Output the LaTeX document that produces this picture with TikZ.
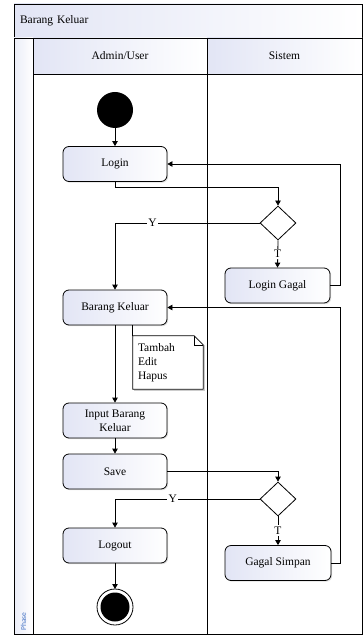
\documentclass[tikz,border=0pt]{standalone}
\usepackage{fontspec}
\setmainfont{Liberation Serif}
\newfontfamily\phasefont{Carlito}
\usetikzlibrary{arrows.meta,shapes.geometric,shadows}
\definecolor{laneblue}{RGB}{226,229,245}
\definecolor{phaseblue}{RGB}{68,114,196}

\begin{document}
\begin{tikzpicture}[x=1pt, y=-1pt, font=\fontsize{11.5}{14}\selectfont]
\tikzstyle{header} = [rectangle, draw=black, line width=0.8pt, left color=laneblue, right color=white, inner sep=0pt]
\tikzstyle{action} = [rectangle, rounded corners=6pt, draw=black, line width=0.8pt, left color=laneblue, right color=white, minimum width=104pt, minimum height=35pt, text centered, drop shadow={shadow xshift=1.2pt, shadow yshift=-1.2pt, opacity=0.25}]
\tikzstyle{decision} = [diamond, draw=black, line width=0.8pt, fill=white, inner sep=0pt, minimum width=36pt, minimum height=34pt]
\tikzstyle{label} = [fill=white, inner sep=1.5pt]
\tikzstyle{arrow} = [line width=0.8pt, -{Triangle[length=5pt,width=5.5pt]}]
\useasboundingbox (0,0) rectangle (363,644);

% swimlanes
\node (TitleBar) [header, minimum width=348pt, minimum height=34pt, text width=336pt, align=left] at (188,21) {Barang Keluar};
\path [left color=laneblue!70, right color=white, draw=black, line width=0.8pt] (14,38) rectangle (33,634);
\node (AdminHeader) [header, minimum width=174pt, minimum height=36pt] at (120,56) {Admin/User};
\node (SistemHeader) [header, minimum width=155pt, minimum height=36pt] at (284.5,56) {Sistem};
\draw [line width=0.8pt] (33,74) rectangle (207,634);
\draw [line width=0.8pt] (207,74) rectangle (362,634);
\node (PhaseLabel) [rotate=90, anchor=west, inner sep=0pt, text=phaseblue, font=\phasefont\fontsize{7.5}{9}\selectfont] at (23.5,631) {Phase};

% activities
\node (Start) [circle, fill=black, minimum size=36pt, inner sep=0pt] at (115,110) {};
\node (Login) [action] at (115,164) {Login};
\node (LoginCheck) [decision] at (278,223) {};
\node (LoginGagal) [action, minimum width=105pt] at (277.5,285.5) {Login Gagal};
\node (BarangKeluar) [action] at (115,307.5) {Barang Keluar};
\node (Note) [rectangle, minimum width=70pt, minimum height=53pt, text width=60pt, align=left, inner sep=5pt] at (168,362.5) {Tambah\\Edit\\Hapus};
\node (InputBarangKeluar) [action, align=center] at (115,420.5) {Input Barang\\Keluar};
\node (Save) [action] at (115,471.5) {Save};
\node (SaveCheck) [decision] at (278,499) {};
\node (Logout) [action] at (115,545.5) {Logout};
\node (GagalSimpan) [action, minimum width=106pt] at (278,563) {Gagal Simpan};
\node (End) [circle, fill=black, minimum size=29pt, inner sep=0pt] at (115,607) {};
\draw [line width=0.8pt] (End.center) circle (18pt);

% note outline
\draw [line width=0.8pt] (Note.north west) -- ([xshift=-9pt]Note.north east) -- ([yshift=-9pt]Note.north east) -- (Note.south east) -- (Note.south west) -- cycle;
\draw [line width=0.5pt] ([xshift=-9pt]Note.north east) -- ([xshift=-9pt,yshift=-9pt]Note.north east) -- ([yshift=-9pt]Note.north east);
\draw [gray!40, line width=1.2pt] ([xshift=1.2pt,yshift=-9pt]Note.north east) -- ([xshift=1.2pt,yshift=-1.2pt]Note.south east) -- ([xshift=1.5pt,yshift=-1.2pt]Note.south west);
\draw [line width=0.8pt] (Note.north west |- BarangKeluar.south) -- (Note.north west);

% flows
\draw [arrow] (Start) -- (Login);
\draw [arrow] (Login.south) -- ++(0,6) -| (LoginCheck.north);
\draw [arrow] (LoginCheck.west) -| node[label, pos=0.37] {Y} (BarangKeluar.north);
\draw [arrow] (LoginCheck.south) -- node[label] {T} (LoginGagal.north);
\draw [arrow] (LoginGagal.east) -- ++(10,0) |- (Login.east);
\draw [arrow] (BarangKeluar.south) -- (InputBarangKeluar.north);
\draw [arrow] (InputBarangKeluar) -- (Save);
\draw [arrow] (Save.east) -| (SaveCheck.north);
\draw [arrow] (SaveCheck.west) -| node[label, pos=0.3] {Y} (Logout.north);
\draw [arrow] (SaveCheck.south) -- node[label] {T} (GagalSimpan.north);
\draw [arrow] (GagalSimpan.east) -- ++(9,0) |- (BarangKeluar.east);
\draw [arrow] (Logout) -- (End.center |- 0,589);

\end{tikzpicture}
\end{document}
